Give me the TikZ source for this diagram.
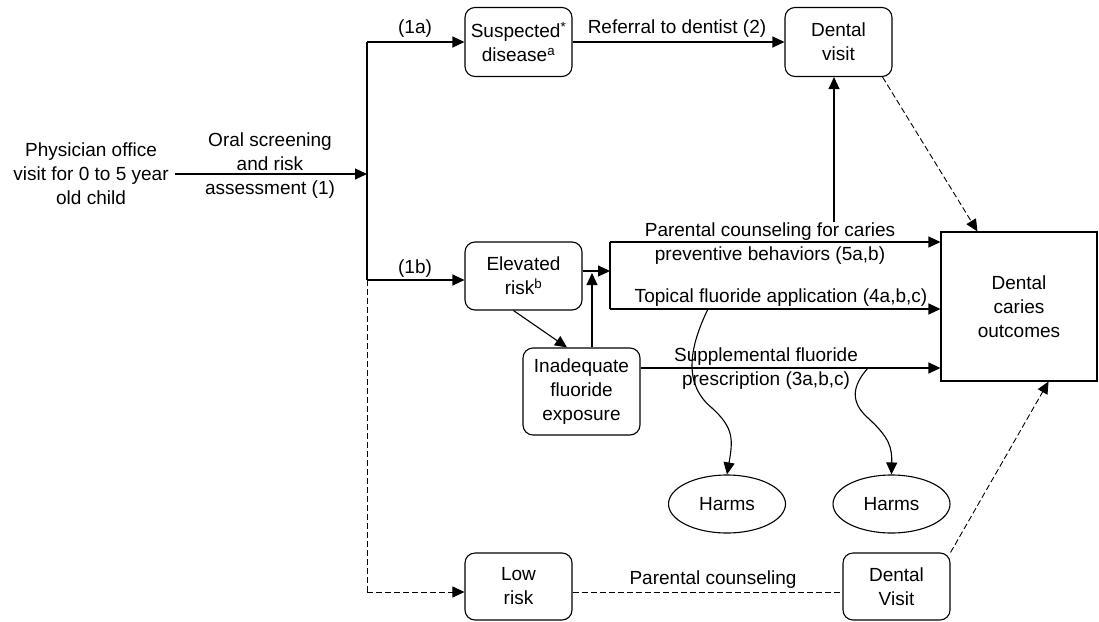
\documentclass[tikz,border=0pt]{standalone}
\usepackage{fontspec}
\setmainfont{Liberation Sans}
\usetikzlibrary{arrows.meta,shapes.geometric}

\tikzset{
  arr/.style={-{Triangle[length=12pt,width=11pt]}},
  dashline/.style={dash pattern=on 6pt off 3pt,line width=0.9pt},
  box/.style={draw,rounded corners=10pt,align=center,inner sep=0pt},
  lbl/.style={align=center,inner sep=0pt}
}

\begin{document}
\begin{tikzpicture}[x=1pt,y=-1pt,line width=1.1pt,font=\fontsize{19}{24}\selectfont]
\useasboundingbox (0,0) rectangle (1099,621);

% boxes
\node[box,minimum width=107pt,minimum height=69pt] (susp) at (518.5,42) {Suspected\textsuperscript{*}\\disease\textsuperscript{a}};
\node[box,minimum width=107pt,minimum height=69pt] (dv1) at (838.5,42) {Dental\\visit};
\node[box,minimum width=117pt,minimum height=68pt] (elev) at (523.5,276) {Elevated\\risk\textsuperscript{b}};
\node[box,minimum width=117pt,minimum height=87pt] (inad) at (581.5,391.5) {Inadequate\\fluoride\\exposure};
\node[box,minimum width=107pt,minimum height=67pt] (low) at (518.5,586.5) {Low\\risk};
\node[box,minimum width=107pt,minimum height=67pt] (dv2) at (896.5,586.5) {Dental\\Visit};
\node[draw,align=center,minimum width=156pt,minimum height=149pt] (caries) at (1019,306.5) {Dental\\caries\\outcomes};
\node[draw,ellipse,minimum width=117pt,minimum height=58pt,inner sep=0pt] (harms1) at (727,504) {Harms};
\node[draw,ellipse,minimum width=117pt,minimum height=58pt,inner sep=0pt] (harms2) at (891.5,504) {Harms};

% texts
\node[lbl] (phys) at (91,174) {Physician office\\visit for 0 to 5 year\\old child};
\node[lbl] (oral) at (270,166) {Oral screening\\and risk\\assessment (1)};
\node[lbl] (l1a) at (415,29) {(1a)};
\node[lbl] (l1b) at (415,269) {(1b)};
\node[lbl] (lref) at (677,29) {Referral to dentist (2)};
\node[lbl] (lpc) at (770,244) {Parental counseling for caries\\preventive behaviors (5a,b)};
\node[lbl] (ltop) at (781,298) {Topical fluoride application (4a,b,c)};
\node[lbl] (lsup) at (766,369) {Supplemental fluoride\\prescription (3a,b,c)};
\node[lbl] (lpar) at (713,580) {Parental counseling};

% points
\coordinate (start) at (175,174);
\coordinate (trunkmid) at (367,174);
\coordinate (trunktop) at (367,42);
\coordinate (trunk1b) at (367,280);
\coordinate (trunkbot) at (367,592);
\coordinate (jct) at (610,271);
\coordinate (brtop) at (610,242);
\coordinate (brbot) at (610,309);
\coordinate (upx) at (592,273);
\coordinate (pcup) at (834,222);
\coordinate (h1) at (708,309);
\coordinate (h2) at (868,368);

% connectors
\draw[arr] (start) -- (trunkmid);
\draw (trunktop) -- (trunk1b);
\draw[arr] (trunktop) -- (susp.west);
\draw[arr] (trunk1b) -- (elev.west |- trunk1b);
\draw[dashline] (trunk1b) -- (trunkbot);
\draw[arr,dashline] (trunkbot) -- (low.west |- trunkbot);
\draw[dashline] (low.east |- trunkbot) -- (dv2.west |- trunkbot);
\draw[arr] (susp.east) -- (dv1.west);
\draw[arr] (elev.east |- jct) -- (jct);
\draw (brtop) -- (brbot);
\draw[arr] (brtop) -- (caries.west |- brtop);
\draw[arr] (brbot) -- (caries.west |- brbot);
\draw[arr] ([xshift=-10pt]elev.south) -- ([xshift=-14.5pt]inad.north);
\draw[arr] (inad.north -| upx) -- (upx);
\draw[arr] ([yshift=23.5pt]inad.east) -- (caries.west |- h2);
\draw[arr] (pcup) -- (pcup |- dv1.south);
\draw[arr,dashline] ([xshift=-10pt]dv1.south east) -- ([xshift=37pt]caries.north west);
\draw[arr,dashline] (dv2.north east) -- ([xshift=-49pt]caries.south east);
\draw[arr] (h1) .. controls (688,350) and (684,385) .. (712,408) .. controls (734,428) and (733,440) .. (harms1.north);
\draw[arr] (h2) .. controls (852,386) and (850,402) .. (868,418) .. controls (890,438) and (892,448) .. (harms2.north);
\end{tikzpicture}
\end{document}
